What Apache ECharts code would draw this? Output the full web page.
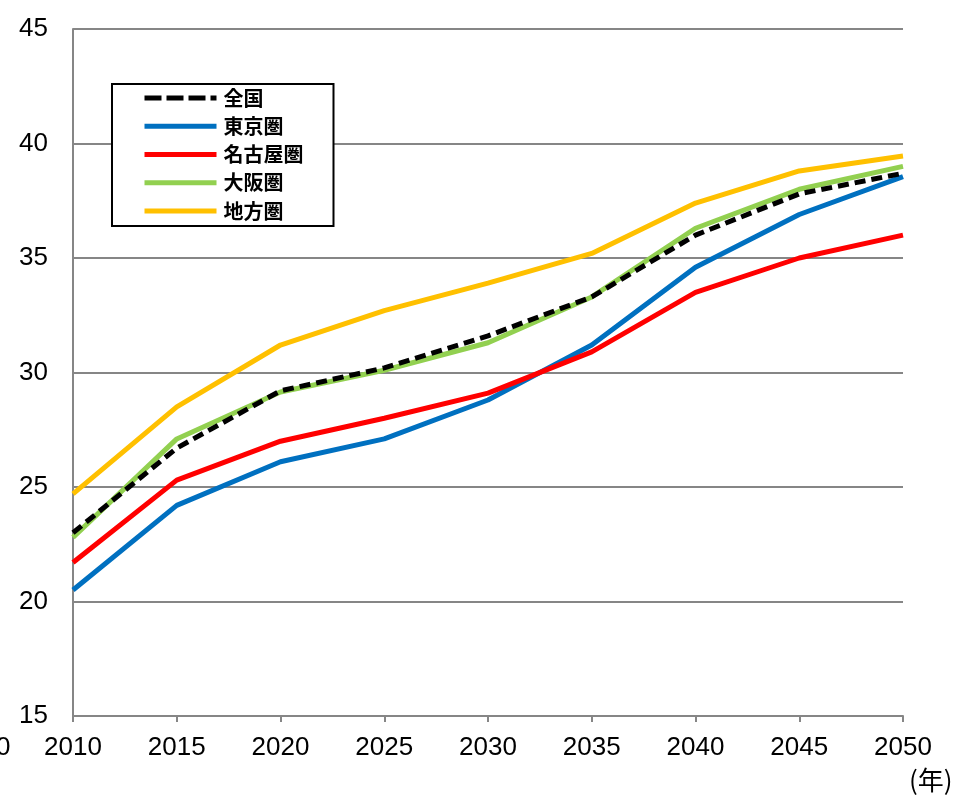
<!DOCTYPE html>
<html>
<head>
<meta charset="utf-8">
<script src="https://cdn.jsdelivr.net/npm/echarts@6/dist/echarts.min.js"></script>
<style>
  html, body { margin: 0; padding: 0; background: #fff; }
  #chart { width: 956px; height: 796px; }
</style>
</head>
<body>
<div id="chart"></div>
<script>
// Years on the horizontal axis
const years = ['2010', '2015', '2020', '2025', '2030', '2035', '2040', '2045', '2050'];

// Series values by region
const zenkoku   = [23.0, 26.7, 29.2, 30.2, 31.6, 33.3, 36.0, 37.8, 38.7];
const tokyo     = [20.5, 24.2, 26.1, 27.1, 28.8, 31.2, 34.6, 36.9, 38.55];
const nagoya    = [21.7, 25.3, 27.0, 28.0, 29.1, 30.9, 33.5, 35.0, 36.0];
const osaka     = [22.8, 27.1, 29.15, 30.1, 31.3, 33.3, 36.3, 38.0, 39.0];
const chiho     = [24.7, 28.5, 31.2, 32.7, 33.9, 35.2, 37.4, 38.8, 39.45];

const seriesNames = ['全国', '東京圏', '名古屋圏', '大阪圏', '地方圏'];

// Value axis range
const yMin = 15, yMax = 45, yStep = 5;

const chart = echarts.init(document.getElementById('chart'), null, { renderer: 'canvas' });

const axisGray = '#868686';
const font = 'Liberation Sans, Arial, sans-serif';
const cjkFont = '"Noto Sans CJK JP", sans-serif';

function line(name, data, color, dashed) {
  return {
    name: name,
    type: 'line',
    data: data,
    showSymbol: false,
    symbol: 'circle',
    z: dashed ? 3 : 2,
    lineStyle: { color: color, width: 5, type: dashed ? [11, 6] : 'solid', cap: 'butt' },
    itemStyle: { color: color },
    emphasis: { disabled: true }
  };
}

chart.setOption({
  animation: false,
  backgroundColor: '#ffffff',
  grid: { left: 73, right: 53, top: 29, bottom: 80, containLabel: false },
  legend: {
    orient: 'vertical',
    left: 112,
    top: 84,
    data: seriesNames.map(function (n) {
      return n === '全国'
        ? { name: n, lineStyle: { type: [17, 5], width: 5 } }
        : { name: n };
    }),
    itemWidth: 72,
    itemHeight: 14,
    itemGap: 8.25,
    padding: [4, 30, 5, 30],
    backgroundColor: '#ffffff',
    borderColor: '#000000',
    borderWidth: 2,
    borderRadius: 0,
    itemStyle: { opacity: 0 },
    lineStyle: { width: 5 },
    textStyle: { fontSize: 20, lineHeight: 20, fontWeight: 'bold', color: '#000', fontFamily: cjkFont, padding: [0, 0, 0, 2] },
    selectedMode: false
  },
  xAxis: {
    type: 'category',
    data: years,
    boundaryGap: false,
    axisLine: { lineStyle: { color: axisGray, width: 2 } },
    axisTick: { show: true, inside: false, length: 6, lineStyle: { color: axisGray, width: 2 } },
    axisLabel: { fontSize: 26, color: '#000', fontFamily: font, margin: 19 },
    splitLine: { show: false }
  },
  yAxis: {
    type: 'value',
    min: yMin,
    max: yMax,
    interval: yStep,
    axisLine: { show: true, lineStyle: { color: axisGray, width: 2 } },
    axisTick: { show: false },
    axisLabel: { fontSize: 26, color: '#000', fontFamily: font, margin: 25 },
    splitLine: { show: true, lineStyle: { color: axisGray, width: 2 } }
  },
  graphic: [
    {
      type: 'text', left: 909, top: 767,
      style: { text: '(年)', fontSize: 26, fill: '#000', fontFamily: cjkFont }
    },
    {
      type: 'text', left: -4, top: 735,
      style: { text: '0', fontSize: 26, fill: '#000', fontFamily: font }
    }
  ],
  series: [
    line('東京圏', tokyo, '#0070C0', false),
    line('名古屋圏', nagoya, '#FF0000', false),
    line('地方圏', chiho, '#FFC000', false),
    line('大阪圏', osaka, '#92D050', false),
    line('全国', zenkoku, '#000000', true)
  ]
});
</script>
</body>
</html>
